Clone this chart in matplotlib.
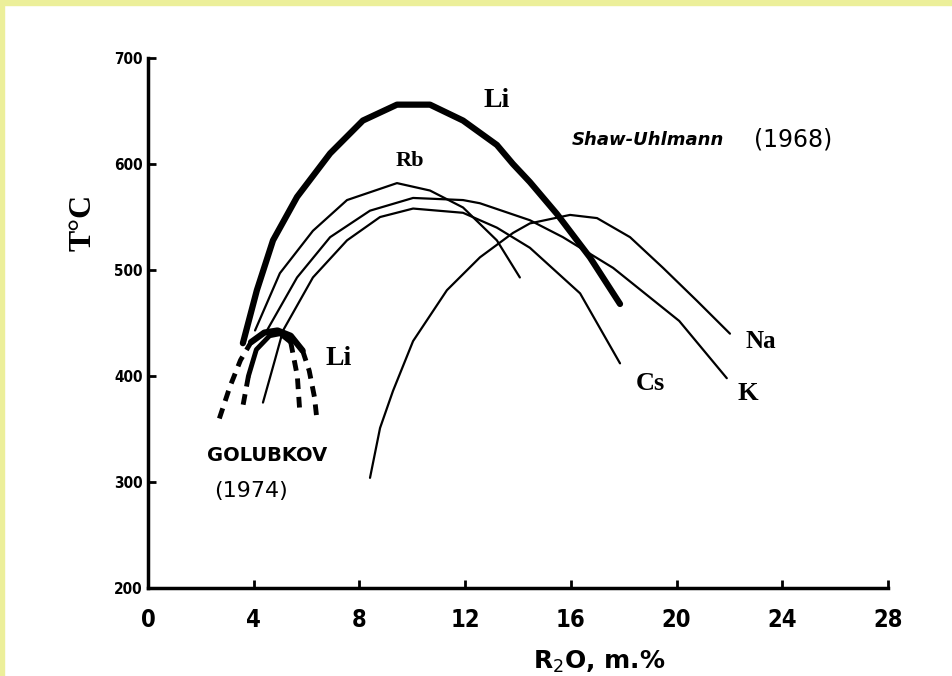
import matplotlib.pyplot as plt
from matplotlib.patches import Rectangle

# Shaw-Uhlmann (1968) curves, R2O mol % vs T (°C)
li_x = [3.59, 4.12, 4.73, 5.64, 6.89, 8.13, 9.42, 10.67, 11.92, 13.2, 13.81, 14.45, 15.47, 16.72, 17.86]
li_t = [431, 481, 528, 569, 610, 641, 656, 656, 641, 618, 600, 583, 553, 512, 468]

rb_x = [4.05, 4.99, 6.24, 7.53, 9.42, 10.67, 11.92, 13.2, 14.07]
rb_t = [443, 497, 537, 566, 582, 575, 559, 528, 493]

k_x = [4.5, 5.64, 6.89, 8.4, 10.03, 11.92, 12.56, 14.45, 15.7, 17.6, 20.1, 21.9]
k_t = [443, 493, 531, 556, 568, 566, 563, 547, 531, 502, 452, 398]

cs_x = [4.35, 4.8, 5.11, 6.24, 7.53, 8.78, 10.03, 11.92, 12.56, 13.2, 14.45, 16.35, 17.86]
cs_t = [375, 415, 443, 493, 528, 550, 558, 554, 547, 540, 521, 478, 412]

na_x = [8.4, 8.78, 9.27, 10.03, 11.31, 12.56, 13.81, 14.45, 15.97, 16.99, 18.24, 19.49, 20.77, 22.02]
na_t = [304, 351, 386, 433, 481, 512, 535, 544, 552, 549, 531, 502, 471, 440]

# Golubkov (1974) Li
gol_outer_x = [2.7, 3.1, 3.5, 3.9, 4.4, 4.9, 5.4, 5.85, 6.1, 6.3, 6.4]
gol_outer_t = [360, 390, 415, 432, 441, 443, 438, 424, 405, 380, 357]
gol_inner_x = [3.6, 3.8, 4.1, 4.6, 5.0, 5.4, 5.65, 5.75]
gol_inner_t = [373, 400, 425, 438, 440, 432, 400, 364]

xticks = [0, 4, 8, 12, 16, 20, 24, 28]
yticks = [200, 300, 400, 500, 600, 700]

fig = plt.figure(figsize=(9.53, 6.76), dpi=100)
fig.patches.append(Rectangle((0, 1 - 5 / 676), 1, 5 / 676, transform=fig.transFigure,
                             color='#ecef9a', zorder=0))
fig.patches.append(Rectangle((0, 0), 4 / 953, 1, transform=fig.transFigure,
                             color='#ecef9a', zorder=0))
ax = fig.add_axes([0.1553, 0.130, 0.7765, 0.7842])

thin = dict(color='black', lw=1.6, solid_capstyle='round', solid_joinstyle='round')
ax.plot(li_x, li_t, color='black', lw=4.5, solid_capstyle='round', solid_joinstyle='round')
ax.plot(rb_x, rb_t, **thin)
ax.plot(k_x, k_t, **thin)
ax.plot(cs_x, cs_t, **thin)
ax.plot(na_x, na_t, **thin)

dash = dict(color='black', lw=3.5, ls=(0, (2.2, 1.6)))
ax.plot(gol_outer_x[3:8], gol_outer_t[3:8], color='black', lw=4.5,
        solid_capstyle='round', solid_joinstyle='round')
ax.plot(gol_outer_x[:4], gol_outer_t[:4], **dash)
ax.plot(gol_outer_x[7:], gol_outer_t[7:], **dash)
ax.plot(gol_inner_x[1:6], gol_inner_t[1:6], color='black', lw=3.5,
        solid_capstyle='round', solid_joinstyle='round')
ax.plot(gol_inner_x[:2], gol_inner_t[:2], **dash)
ax.plot(gol_inner_x[5:], gol_inner_t[5:], **dash)

ax.set_xlim(0, 28)
ax.set_ylim(200, 700)
ax.set_xticks(xticks)
ax.set_yticks(yticks)
ax.set_xticklabels([str(v) for v in xticks], fontsize=17, fontweight='bold',
                   fontstretch='condensed')
ax.set_yticklabels([str(v) for v in yticks], fontsize=11, fontweight='bold',
                   fontstretch='condensed')
ax.tick_params(axis='x', direction='in', length=6, width=2, pad=14)
ax.tick_params(axis='y', direction='in', length=6, width=2, pad=4)
for s in ['top', 'right']:
    ax.spines[s].set_visible(False)
for s in ['left', 'bottom']:
    ax.spines[s].set_linewidth(2.5)

ax.set_ylabel('T°C', family='Liberation Serif', fontsize=23, fontweight='bold')
ax.yaxis.set_label_coords(-0.068, 0.69)
ax.set_xlabel('R$_2$O, m.%', fontsize=18, fontweight='bold')
ax.xaxis.set_label_coords(0.61, -0.115)

serif = dict(family='Liberation Serif', fontweight='bold', color='black')
ax.text(13.2, 660, 'Li', fontsize=20, ha='center', va='center', **serif)
ax.text(9.9, 603, 'Rb', fontsize=16, ha='center', va='center', **serif)
ax.text(23.2, 433, 'Na', fontsize=18, ha='center', va='center', **serif)
ax.text(19.0, 393, 'Cs', fontsize=19, ha='center', va='center', **serif)
ax.text(22.7, 384, 'K', fontsize=19, ha='center', va='center', **serif)
ax.text(7.2, 417, 'Li', fontsize=20, ha='center', va='center', **serif)
ax.text(18.9, 623, 'Shaw-Uhlmann', fontsize=13, ha='center', va='center',
        fontweight='bold', style='italic')
ax.text(24.4, 623, '(1968)', fontsize=17, ha='center', va='center')
ax.text(4.5, 325, 'GOLUBKOV', fontsize=14, ha='center', va='center', fontweight='bold')
ax.text(3.9, 292, '(1974)', fontsize=16, ha='center', va='center')

fig.savefig('out.png', dpi=100)
